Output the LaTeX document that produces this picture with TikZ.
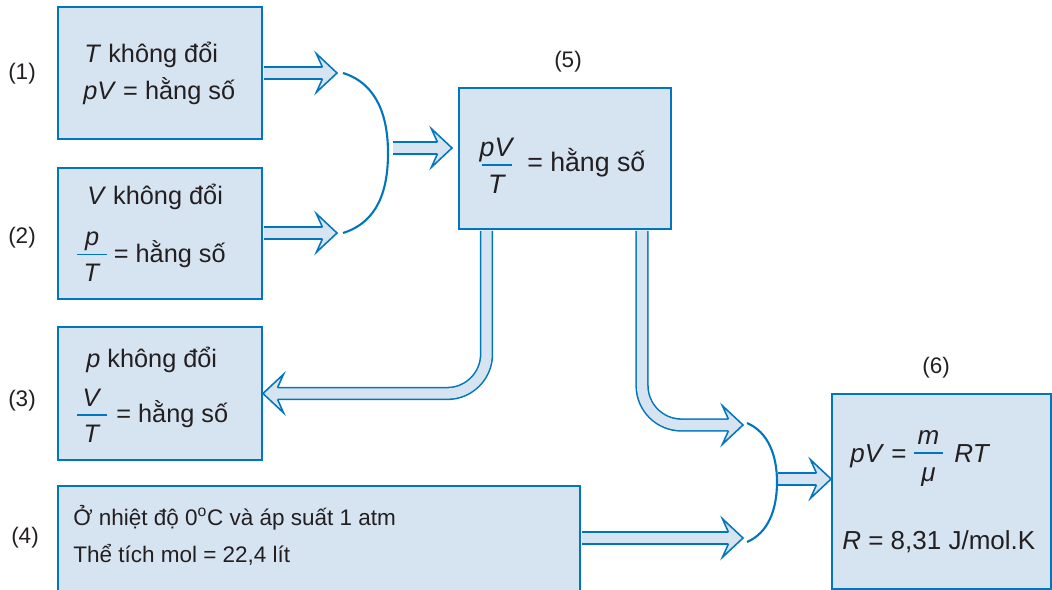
\documentclass[tikz,border=0pt]{standalone}
\usepackage{fontspec}
\setmainfont{Liberation Sans}
\usetikzlibrary{calc}

\definecolor{boxfill}{RGB}{214,228,242}
\definecolor{lineblue}{RGB}{0,118,190}
\definecolor{ink}{RGB}{35,31,32}

% fraction with a blue bar
\newcommand{\vfrac}[2]{$\vcenter{\offinterlineskip
    \hbox to 21pt{\hss\raisebox{0pt}[\height][0pt]{#1}\hss}%
    \kern0.3em
    \hbox{\color{lineblue}\rule{21pt}{1.2pt}}%
    \kern0.35em
    \hbox to 21pt{\hss\vphantom{T}\raisebox{0pt}[\height][0pt]{#2}\hss}}$}

\begin{document}
\begin{tikzpicture}[
    x=0.025cm, y=-0.025cm,
    box/.style={rectangle, draw=lineblue, fill=boxfill, line width=1.3pt, inner sep=0pt},
    txt/.style={anchor=base west, inner sep=0pt, text=ink, font=\fontsize{18}{21}\selectfont},
    bigtxt/.style={txt, font=\fontsize{19}{23}\selectfont},
    numlabel/.style={inner sep=0pt, text=ink, font=\fontsize{16}{19}\selectfont},
    pipe/.style={draw=lineblue, line width=1.1pt, double=boxfill, double distance=7.3pt},
    clamp/.style={draw=lineblue, line width=1.5pt},
    bighead/.pic={\filldraw[fill=boxfill, draw=lineblue, line width=1.1pt, line join=miter]
        (-14.6,-5.9) -- (-20.6,-19.3) -- (0,0) -- (-20.6,19.3) -- (-14.6,5.9);}
]
    \useasboundingbox (0,0) rectangle (1052,590);

    % boxes
    \node[box, minimum width=5.1cm, minimum height=3.3cm] (b1) at (160,73) {};
    \node[box, minimum width=5.1cm, minimum height=3.275cm] (b2) at (160,233.5) {};
    \node[box, minimum width=5.1cm, minimum height=3.325cm] (b3) at (160,393.5) {};
    \node[box, minimum width=13.05cm, minimum height=2.75cm] (b4) at (319,541) {};
    \node[box, minimum width=5.3cm, minimum height=3.525cm] (b5) at (565,158.5) {};
    \node[box, minimum width=5.475cm, minimum height=4.875cm] (b6) at (941.5,491.5) {};

    % numbers
    \node[numlabel] (n1) at (22,74) {(1)};
    \node[numlabel] (n2) at (22,238) {(2)};
    \node[numlabel] (n3) at (22,401) {(3)};
    \node[numlabel] (n4) at (25,538) {(4)};
    \node[numlabel] (n5) at (568,62) {(5)};
    \node[numlabel] (n6) at (936,368) {(6)};

    % texts
    \node[txt] (l1a) at (84,63) {\textit{T} không đổi};
    \node[txt] (l1b) at (83,100) {\textit{pV} = hằng số};
    \node[txt] (l2a) at (87,205) {\textit{V} không đổi};
    \node[txt] (l2b) at (77,263) {\vfrac{\textit{p}}{\textit{T}} = hằng số};
    \node[txt] (l3a) at (86,367) {\textit{p} không đổi};
    \node[txt] (l3b) at (77,422) {\vfrac{\textit{V}}{\textit{T}}\hspace{0.1em} = hằng số};
    \node[txt, font=\fontsize{16}{19}\selectfont] (l4a) at (73,525) {Ở nhiệt độ 0\textsuperscript{o}C và áp suất 1 atm};
    \node[txt, font=\fontsize{16}{19}\selectfont] (l4b) at (73,562) {Thể tích mol = 22,4 lít};
    \node[bigtxt] (l5) at (482,172) {\vfrac{\textit{pV}}{\textit{T}}\hspace{0.3em} = hằng số};
    \node[bigtxt, font=\fontsize{18.5}{22}\selectfont] (l6a) at (850,462) {\textit{pV} = \vfrac{\textit{m}}{\textit{μ}}\hspace{0.15em} \textit{RT}};
    \node[bigtxt, font=\fontsize{18.5}{22}\selectfont] (l6b) at (842,549) {\textit{R} = 8,31 J/mol.K};

    % tips and starts
    \coordinate (t1) at (337,73);
    \coordinate (t2) at (337,233);
    \coordinate (k1) at (393,148);
    \coordinate (t5) at (452,148);
    \coordinate (t6) at (743,425);
    \coordinate (t4) at (743,538);
    \coordinate (k2) at (778,479);

    % straight arrows
    \draw[pipe] ($(t1 -| b1.east)+(1,0)$) -- ($(t1)+(-14,0)$);
    \pic at (t1) {bighead};
    \draw[pipe] ($(t2 -| b2.east)+(1,0)$) -- ($(t2)+(-14,0)$);
    \pic at (t2) {bighead};
    \draw[pipe] (k1) -- ($(t5)+(-14,0)$);
    \pic at (t5) {bighead};
    \draw[pipe] ($(t4 -| b4.east)+(1,0)$) -- ($(t4)+(-14,0)$);
    \pic at (t4) {bighead};
    \draw[pipe] (k2) -- ($(b6.west |- k2)+(-14,0)$);
    \pic at (b6.west |- k2) {bighead};

    % bent pipes out of (5)
    \draw[pipe, rounded corners=28pt] ($(b5.south west)+(28.5,1)$) |- ($(b3.east)+(14,0)$);
    \pic[rotate=180] at (b3.east) {bighead};
    \draw[pipe, rounded corners=28pt] ($(b5.south west)+(184,1)$) |- ($(t6)+(-14,0)$);
    \pic at (t6) {bighead};

    % brackets
    \draw[clamp] (343,73) .. controls (378,84) and (388,118) .. (388,153)
        .. controls (388,190) and (378,222) .. (343,233);
    \draw[clamp] (747,423) .. controls (768,432) and (777,455) .. (777,482)
        .. controls (777,510) and (768,533) .. (747,542);
\end{tikzpicture}
\end{document}
